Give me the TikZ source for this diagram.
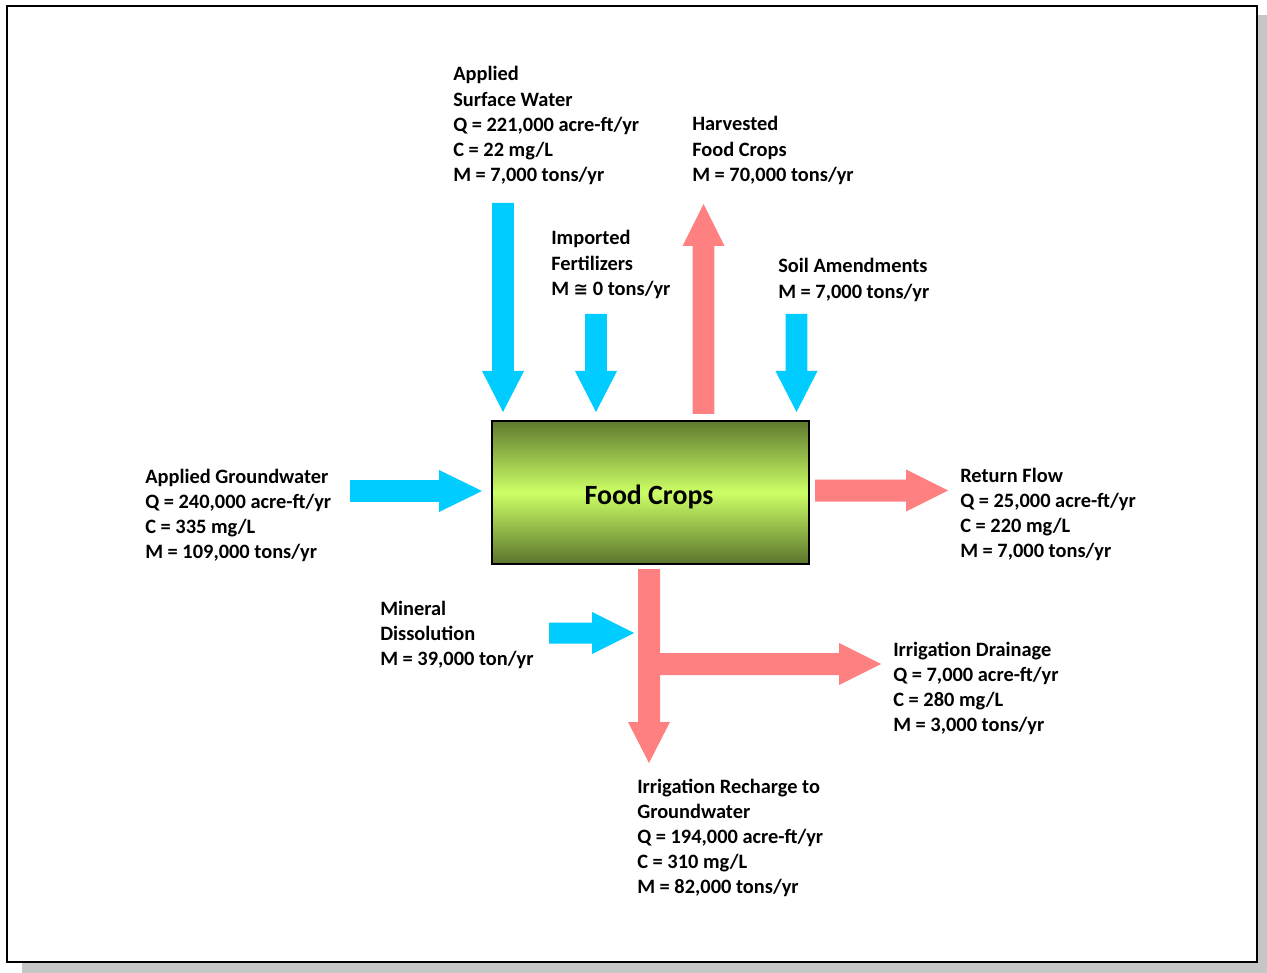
\documentclass[tikz,border=0pt]{standalone}
\usepackage{fontspec}
\setmainfont{Carlito}
\newfontfamily\symfont{DejaVu Sans}
\definecolor{inflow}{HTML}{00CCFF}
\definecolor{outflow}{HTML}{FF8080}
\definecolor{olive}{HTML}{5F7A2E}
\definecolor{lime}{HTML}{CCFF66}
\definecolor{shadowgray}{HTML}{C6C6C6}
\tikzset{
  lbl/.style={inner sep=0pt, align=left, anchor=base west,
    font=\fontsize{15.3pt}{18.9pt}\selectfont\bfseries},
  blueflow/.style={fill=inflow},
  redflow/.style={fill=outflow},
}
% vertical block arrow: x centre, start y, shaft half-width, head base y, head half-width, tip y
\newcommand\vflow[7]{%
  \fill[#1] ({#2-#4},#3) -- ({#2+#4},#3) -- ({#2+#4},#5) -- ({#2+#6},#5)
    -- (#2,#7) -- ({#2-#6},#5) -- ({#2-#4},#5) -- cycle;}
% horizontal block arrow: y centre, start x, shaft half-height, head base x, head half-height, tip x
\newcommand\hflow[7]{%
  \fill[#1] (#3,{#2-#4}) -- (#3,{#2+#4}) -- (#5,{#2+#4}) -- (#5,{#2+#6})
    -- (#7,#2) -- (#5,{#2-#6}) -- (#5,{#2-#4}) -- cycle;}
\newcommand\approxeq{{\symfont\fontsize{13pt}{15pt}\selectfont ≅}}
\begin{document}
\begin{tikzpicture}[x=0.75pt,y=-0.75pt]
\useasboundingbox (0,0) rectangle (1267,973);
% page frame with drop shadow
\fill[shadowgray] (22,15) rectangle (1267,973);
\draw[fill=white, line width=1.6pt] (7,6) rectangle (1257,962);

% central compartment
\node (crops) [draw, line width=1.9pt, inner sep=0pt,
  top color=olive, bottom color=olive!95!black, middle color=lime,
  minimum width=237.5pt, minimum height=107pt] at (650.5,492.5) {};
\node (cropsname) [font=\fontsize{20.9pt}{25pt}\selectfont\bfseries, inner sep=0pt]
  at (649,497) {Food Crops};

% inflows
\vflow{blueflow}{503}{203}{10.8}{371}{21}{412}
\vflow{blueflow}{596}{314}{10.8}{371}{21}{412}
\vflow{blueflow}{796.5}{314}{10.8}{371}{21}{412}
\hflow{blueflow}{491}{350}{10.8}{439}{21}{482}
\hflow{blueflow}{633}{549}{10.5}{592}{21}{634}

% outflows
\vflow{redflow}{703.5}{414}{10.8}{246}{21}{204}
\hflow{redflow}{490.5}{815}{11}{906}{21}{948}
\fill[redflow] (638,569) -- (660,569) -- (660,653) -- (839,653) -- (839,643)
  -- (881,664) -- (839,685) -- (839,675) -- (660,675) -- (660,722) -- (670,722)
  -- (649,763) -- (628,722) -- (638,722) -- cycle;

% flow labels (anchored at the baseline of their last line)
\node (sw) [lbl] at (453,181.8) {Applied\\Surface Water\\Q = 221,000 acre-ft/yr\\C = 22 mg/L\\M = 7,000 tons/yr};
\node (hv) [lbl] at (692,181.4) {Harvested\\Food Crops\\M = 70,000 tons/yr};
\node (fe) [lbl] at (551,295.4) {Imported\\Fertilizers\\M \approxeq{} 0 tons/yr};
\node (sa) [lbl] at (778,298.2) {Soil Amendments\\M = 7,000 tons/yr};
\node (gw) [lbl] at (145,558.6) {Applied Groundwater\\Q = 240,000 acre-ft/yr\\C = 335 mg/L\\M = 109,000 tons/yr};
\node (rf) [lbl] at (960,557.6) {Return Flow\\Q = 25,000 acre-ft/yr\\C = 220 mg/L\\M = 7,000 tons/yr};
\node (md) [lbl] at (380,665.4) {Mineral\\Dissolution\\M = 39,000 ton/yr};
\node (id) [lbl] at (893,731.6) {Irrigation Drainage\\Q = 7,000 acre-ft/yr\\C = 280 mg/L\\M = 3,000 tons/yr};
\node (ir) [lbl] at (637,893.8) {Irrigation Recharge to\\Groundwater\\Q = 194,000 acre-ft/yr\\C = 310 mg/L\\M = 82,000 tons/yr};
\end{tikzpicture}
\end{document}
